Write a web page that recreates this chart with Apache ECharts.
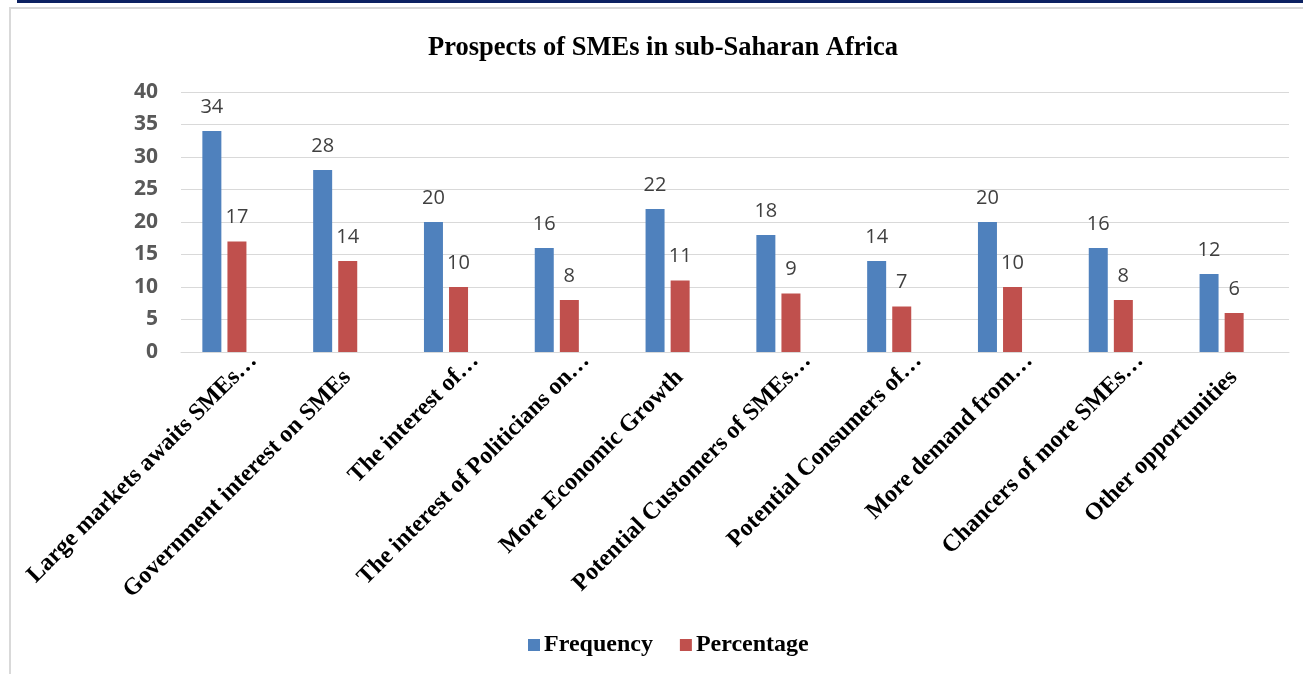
<!DOCTYPE html>
<html lang="en">
<head>
    <meta charset="utf-8"/>
    <title>Prospects of SMEs in sub-Saharan Africa</title>
    <script src="https://cdn.jsdelivr.net/npm/echarts@6/dist/echarts.min.js"></script>
    <style>
        html, body { margin: 0; padding: 0; background: #fff; }
        #chart { width: 1303px; height: 674px; }
    </style>
</head>
<body>
    <div id="chart"></div>
    <script>
        // categories as shown (truncated like the original)
        const categories = [
            'Large markets awaits SMEs\u2026',
            'Government interest on SMEs',
            'The interest of\u2026',
            'The interest of Politicians on\u2026',
            'More Economic Growth',
            'Potential Customers of SMEs\u2026',
            'Potential Consumers of\u2026',
            'More demand from\u2026',
            'Chancers of more SMEs\u2026',
            'Other opportunities'
        ];
        const frequency = [34, 28, 20, 16, 22, 18, 14, 20, 16, 12];
        const percentage = [17, 14, 10, 8, 11, 9, 7, 10, 8, 6];
        const yTicks = { min: 0, max: 40, interval: 5 };

        const chart = echarts.init(document.getElementById('chart'));
        const serif = '"Liberation Serif", "Times New Roman", serif';
        const sans = '"Open Sans", "Liberation Sans", sans-serif';

        // truncated labels sit a little further out in the original
        const labelItems = categories.map(function (c) {
            if (c.endsWith('\u2026')) {
                return { value: c, textStyle: { padding: [0, -24, 0, 0] } };
            }
            return c;
        });

        const option = {
            animation: false,
            title: {
                text: 'Prospects of SMEs in sub-Saharan Africa',
                left: 423,
                top: 30,
                textStyle: { fontFamily: serif, fontWeight: 'bold', fontSize: 26.5, color: '#000' }
            },
            legend: {
                data: ['Frequency', 'Percentage'],
                left: 523,
                top: 628,
                icon: 'rect',
                itemWidth: 12,
                itemHeight: 12,
                itemGap: 27,
                textStyle: { fontFamily: serif, fontWeight: 'bold', fontSize: 24, color: '#000', padding: [0, 0, 0, -1] }
            },
            grid: [
                // bars
                { left: 169, right: 26, top: 92, bottom: 322 },
                // gridlines, axis line and labels
                { left: 181, right: 14, top: 92, bottom: 322 }
            ],
            xAxis: [
                {
                    type: 'category', gridIndex: 0, data: categories,
                    axisLine: { show: false }, axisTick: { show: false }, axisLabel: { show: false }
                },
                {
                    type: 'category', gridIndex: 1, data: labelItems,
                    axisLine: { lineStyle: { color: '#D9D9D9', width: 1 } },
                    axisTick: { show: false },
                    axisLabel: {
                        interval: 0, rotate: 45, margin: 22,
                        fontFamily: serif, fontWeight: 'bold', fontSize: 24, color: '#000'
                    }
                }
            ],
            yAxis: [
                {
                    type: 'value', gridIndex: 0, min: yTicks.min, max: yTicks.max, interval: yTicks.interval,
                    axisLine: { show: false }, axisTick: { show: false }, axisLabel: { show: false },
                    splitLine: { show: false }
                },
                {
                    type: 'value', gridIndex: 1, min: yTicks.min, max: yTicks.max, interval: yTicks.interval,
                    axisLine: { show: false }, axisTick: { show: false },
                    axisLabel: { margin: 23, fontFamily: sans, fontWeight: 'bold', fontSize: 21, color: '#595959' },
                    splitLine: { lineStyle: { color: '#D9D9D9', width: 1 } }
                }
            ],
            series: [
                {
                    name: 'Frequency', type: 'bar', xAxisIndex: 0, yAxisIndex: 0,
                    data: frequency, barWidth: 19, barGap: '32%',
                    itemStyle: { color: '#4F81BD' },
                    label: { show: true, position: 'top', distance: 14, fontFamily: sans, fontSize: 20, color: '#404040' }
                },
                {
                    name: 'Percentage', type: 'bar', xAxisIndex: 0, yAxisIndex: 0,
                    data: percentage, barWidth: 19, barGap: '32%',
                    itemStyle: { color: '#C0504D' },
                    label: { show: true, position: 'top', distance: 14, fontFamily: sans, fontSize: 20, color: '#404040' }
                }
            ],
            graphic: [
                // dark band along the top edge
                { type: 'rect', shape: { x: 17, y: 0, width: 1286, height: 3 }, style: { fill: '#0B2161' }, silent: true },
                // light chart-area border
                { type: 'rect', shape: { x: 10, y: 8, width: 1300, height: 680 }, style: { fill: 'none', stroke: '#D9D9D9', lineWidth: 2 }, silent: true }
            ]
        };
        chart.setOption(option);
    </script>
</body>
</html>
